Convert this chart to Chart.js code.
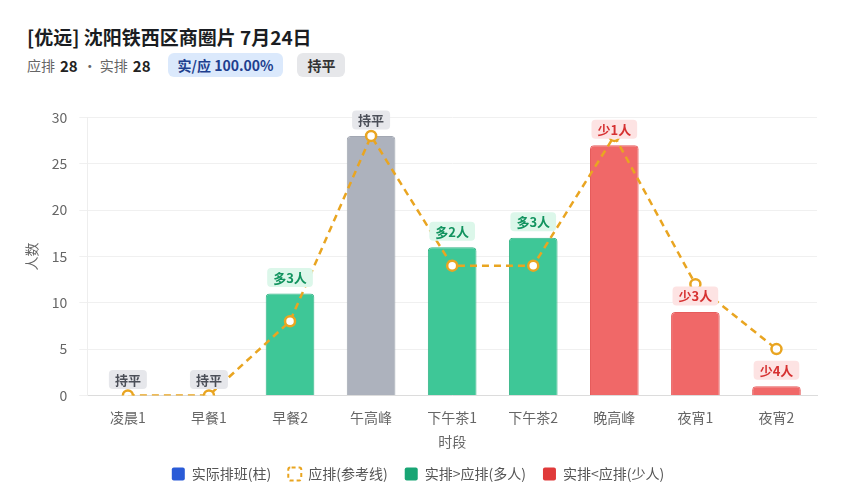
<!DOCTYPE html>
<html><head><meta charset="utf-8">
<script src="https://cdn.jsdelivr.net/npm/chart.js@4.4.0/dist/chart.umd.min.js"></script>
<style>
html,body{margin:0;padding:0;background:#fff;font-family:"Noto Sans CJK SC","Noto Sans",sans-serif;}
#wrap{position:relative;width:849px;height:500px;overflow:hidden;}
#title{position:absolute;left:27px;top:23px;font-size:19px;font-weight:bold;color:#1a1d22;white-space:nowrap;}
#sub{position:absolute;left:27px;top:53px;font-size:14px;color:#666;white-space:nowrap;display:flex;align-items:center;}
#sub b{color:#222;font-size:15px;margin:0 5px;}
.badge{display:inline-block;padding:2px 10px;border-radius:6px;font-weight:bold;font-size:14px;line-height:20px;}
#chartBox{position:absolute;left:0;top:97px;width:849px;height:403px;}
</style></head>
<body><div id="wrap">
<div id="title">[优远] 沈阳铁西区商圈片 7月24日</div>
<div id="sub">应排<b>28</b>·&nbsp;实排<b>28</b><span class="badge" style="background:#dbe9fc;color:#1e3f8f;margin-left:12px;">实/应 100.00%</span><span class="badge" style="background:#e6e7ea;color:#333;margin-left:14px;">持平</span></div>
<div id="chartBox"><canvas id="c"></canvas></div>
</div>
<script>
const categories = ["凌晨1","早餐1","早餐2","午高峰","下午茶1","下午茶2","晚高峰","夜宵1","夜宵2"];
const actualValues = [0,0,11,28,16,17,27,9,1];
const plannedValues = [0,0,8,28,14,14,28,12,5];
const yTicks = [0,5,10,15,20,25,30];

const C_GREEN='#3ec797', C_GRAY='#adb2bd', C_RED='#f06868', C_LINE='#e9a521';
const FONT='"Noto Sans CJK SC", sans-serif';
const barColors = actualValues.map((a,i)=> a>plannedValues[i]?C_GREEN:(a<plannedValues[i]?C_RED:C_GRAY));
const barBorders = actualValues.map((a,i)=> a>plannedValues[i]?'#34b386':(a<plannedValues[i]?'#e65c5c':'#a2a7b2'));
const diffLabels = actualValues.map((a,i)=>{const d=a-plannedValues[i]; return d>0?('多'+d+'人'):(d<0?('少'+(-d)+'人'):'持平');});

const labelPlugin = {
  id:'diffLabels',
  afterDatasetsDraw(chart){
    const ctx=chart.ctx, xs=chart.scales.x, ys=chart.scales.y;
    ctx.save();
    ctx.font='bold 13px '+FONT;
    ctx.textAlign='center'; ctx.textBaseline='middle';
    actualValues.forEach((a,i)=>{
      const d=a-plannedValues[i];
      const x=xs.getPixelForValue(i), y=ys.getPixelForValue(a)-16;
      const t=diffLabels[i];
      const w=ctx.measureText(t).width+12, h=19;
      let bg,fg;
      if(d>0){bg='#dcf7ea';fg='#12935f';} else if(d<0){bg='#fde3e3';fg='#d63131';} else {bg='#e6e7eb';fg='#4b4f58';}
      ctx.fillStyle=bg;
      ctx.beginPath(); ctx.roundRect(x-w/2,y-h/2,w,h,4); ctx.fill();
      ctx.fillStyle=fg; ctx.fillText(t,x,y+0.5);
    });
    ctx.restore();
  }
};

new Chart(document.getElementById('c'),{
  data:{
    labels:categories,
    datasets:[
      {type:'line',label:'应排(参考线)',data:plannedValues,borderColor:C_LINE,borderWidth:2.5,borderDash:[7,5],
       pointRadius:5,pointHoverRadius:6,pointBackgroundColor:'#fff',pointBorderColor:C_LINE,pointBorderWidth:2.5,tension:0,order:0},
      {type:'bar',label:'实际排班(柱)',data:actualValues,backgroundColor:barColors,borderColor:barBorders,borderWidth:1,
       borderRadius:{topLeft:4,topRight:4},borderSkipped:'bottom',barPercentage:0.6,categoryPercentage:1,order:1}
    ]
  },
  options:{
    responsive:true,maintainAspectRatio:false,animation:false,
    layout:{padding:{left:19,right:32,top:11,bottom:9}},
    plugins:{
      tooltip:{enabled:true},
      legend:{position:'bottom',labels:{
        font:{size:14,family:FONT},color:'#555',boxWidth:13,boxHeight:13,padding:17,
        generateLabels(){
          return [
            {text:'实际排班(柱)',fillStyle:'#2a5bd7',strokeStyle:'#2a5bd7',lineWidth:0,borderRadius:2,datasetIndex:1,fontColor:'#555'},
            {text:'应排(参考线)',fillStyle:'#fff',strokeStyle:C_LINE,lineWidth:2,lineDash:[4,3],borderRadius:2,datasetIndex:0,fontColor:'#555'},
            {text:'实排>应排(多人)',fillStyle:'#18a574',strokeStyle:'#18a574',lineWidth:0,borderRadius:2,fontColor:'#555'},
            {text:'实排<应排(少人)',fillStyle:'#e03a3a',strokeStyle:'#e03a3a',lineWidth:0,borderRadius:2,fontColor:'#555'}
          ];
        }
      }}
    },
    scales:{
      x:{grid:{display:false},border:{color:'#dcdcdc'},
         ticks:{color:'#666',font:{size:14,family:FONT},padding:6},
         title:{display:true,text:'时段',color:'#666',font:{size:14,family:FONT},padding:{top:1,bottom:0}}},
      y:{min:0,max:30,afterBuildTicks(s){s.ticks=yTicks.map(v=>({value:v}));},
         grid:{color:'#f0f0f0'},border:{color:'#eeeeee'},
         ticks:{color:'#666',font:{size:14,family:FONT},padding:12},
         title:{display:true,text:'人数',color:'#666',font:{size:14,family:FONT},padding:{bottom:0}}}
    }
  },
  plugins:[labelPlugin]
});
</script>
</body></html>
